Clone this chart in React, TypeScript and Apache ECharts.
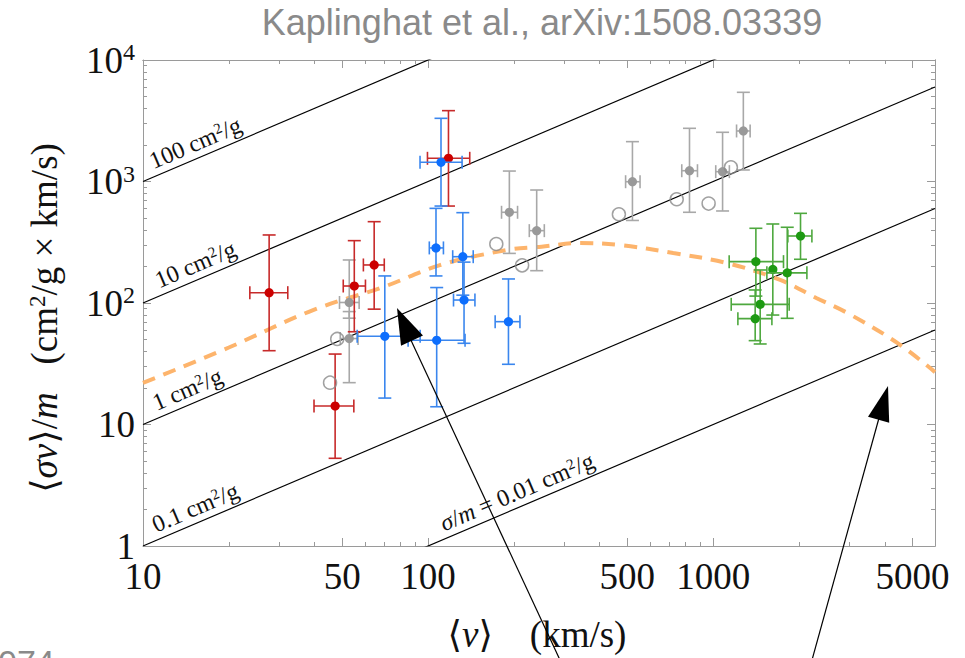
import React, { useEffect, useRef } from 'react';
import * as echarts from 'echarts';

// constant sigma/m reference lines (cm^2/g)
const sigmaOverM = [100, 10, 1, 0.1, 0.01];
const sigmaLabelV = [16, 16, 15, 16, 215];
const sigmaLabels = [
  '100 cm{sup|2}/g',
  '10 cm{sup|2}/g',
  '1 cm{sup|2}/g',
  '0.1 cm{sup|2}/g',
  '{i|σ}/{i|m} = 0.01 cm{sup|2}/g',
];

// axis ticks
const xTickLabels = [10, 50, 100, 500, 1000, 5000];
const xMinorTicks = [20, 30, 40, 60, 70, 80, 90, 200, 300, 400, 600, 700, 800, 900, 2000, 3000, 4000];
const yTickLabels = [1, 10, 100, 1000, 10000];
const yMinorTicks = [2, 3, 4, 5, 6, 7, 8, 9, 20, 30, 40, 50, 60, 70, 80, 90, 200, 300, 400, 500, 600, 700, 800, 900, 2000, 3000, 4000, 5000, 6000, 7000, 8000, 9000];

// model curve (dashed orange)
const curveV = [10, 20, 39.5, 70, 110, 189, 250, 341, 472, 724, 1120, 1718, 2300, 2951, 4424, 6000];
const curveY = [22, 43, 87.5, 136, 205, 273, 291, 312, 300, 258, 213, 155, 110, 83, 47, 27];

// dwarfs (red)
const redV = [27.7, 55.1, 64.7, 117.9, 47.2];
const redY = [121.6, 138, 205.6, 1552, 14.2];
const redVLo = [23.7, 50.4, 59.3, 99.5, 39.8];
const redVHi = [32.2, 60.3, 70.2, 140, 54.9];
const redYLo = [40.5, 58, 89, 628, 5.27];
const redYHi = [363, 326, 467, 3829, 38];

// low surface brightness galaxies (blue)
const blueV = [111, 106.6, 132.4, 133.7, 70.5, 107.2, 191.4];
const blueY = [1439, 284, 240.5, 105.8, 53.2, 49.3, 70.2];
const blueVLo = [93.7, 101, 122, 122.8, 56.4, 85.1, 171.9];
const blueVHi = [131.6, 113.2, 144, 146, 93.8, 134.8, 210];
const blueYLo = [628, 167, 116, 46.6, 16.5, 14.0, 31.3];
const blueYHi = [3311, 601, 554, 217, 167, 134, 157.7];

// groups (gray, filled)
const grayV = [192.8, 240.4, 521, 826, 1079, 1276, 52.9, 52.9];
const grayY = [558, 394, 996, 1227, 1205, 2606, 101, 51];
const grayVLo = [181, 226.5, 493, 776, 1021, 1208, 48.9, 49.2];
const grayVHi = [206, 255.7, 554, 881, 1140, 1348, 57.3, 56.8];
const grayYLo = [256, 184.5, 478, 558, 572, 1244, 75, 22.1];
const grayYHi = [1219, 851, 2128, 2740, 2541, 5420, 226, 85];

// open gray circles
const openV = [173.5, 213.7, 467, 745, 964, 1154, 45.3, 48];
const openY = [306, 204, 537, 714, 658, 1310, 22.1, 50.6];

// clusters (green)
const greenV = [1412, 1619, 1819, 2025, 1462, 1404];
const greenY = [219, 189, 177, 356, 97.5, 74.3];
const greenVLo = [1138, 1619, 1543, 1828, 1157, 1221];
const greenVHi = [1765, 1619, 2132, 2220, 1848, 1607];
const greenYLo = [114, 79.6, 74.8, 229, 46, 49];
const greenYHi = [412, 447, 420, 547, 187, 128];

const SERIF = '"Liberation Serif", "Times New Roman", "DejaVu Serif", serif';
const SANS = '"Liberation Sans", Arial, sans-serif';

const zip = (a: number[], b: number[]) => a.map((v, i) => [v, b[i]]);

function errorRows(v: number[], y: number[], vLo: number[], vHi: number[], yLo: number[], yHi: number[]) {
  return v.map((val, i) => [val, y[i], vLo[i], vHi[i], yLo[i], yHi[i]]);
}

function makeErrorSeries(name: string, rows: number[][], barColor: string, dotColor: string) {
  return {
    name,
    type: 'custom',
    xAxisIndex: 0,
    yAxisIndex: 0,
    z: 4,
    data: rows,
    renderItem: (params: any, api: any) => {
      const v = api.value(0);
      const y = api.value(1);
      const vLo = api.value(2);
      const vHi = api.value(3);
      const yLo = api.value(4);
      const yHi = api.value(5);
      const c = api.coord([v, y]);
      const cap = 6.5;
      const ls = { stroke: barColor, lineWidth: 1.6 };
      const children: any[] = [];
      if (isFinite(yLo) && isFinite(yHi) && yLo !== yHi) {
        const top = api.coord([v, yHi])[1];
        const bot = api.coord([v, yLo])[1];
        children.push({ type: 'line', shape: { x1: c[0], y1: top, x2: c[0], y2: bot }, style: ls });
        children.push({ type: 'line', shape: { x1: c[0] - cap, y1: top, x2: c[0] + cap, y2: top }, style: ls });
        children.push({ type: 'line', shape: { x1: c[0] - cap, y1: bot, x2: c[0] + cap, y2: bot }, style: ls });
      }
      if (isFinite(vLo) && isFinite(vHi) && vLo !== vHi) {
        const l = api.coord([vLo, y])[0];
        const r = api.coord([vHi, y])[0];
        children.push({ type: 'line', shape: { x1: l, y1: c[1], x2: r, y2: c[1] }, style: ls });
        children.push({ type: 'line', shape: { x1: l, y1: c[1] - cap, x2: l, y2: c[1] + cap }, style: ls });
        children.push({ type: 'line', shape: { x1: r, y1: c[1] - cap, x2: r, y2: c[1] + cap }, style: ls });
      }
      children.push({ type: 'circle', shape: { cx: c[0], cy: c[1], r: 4.6 }, style: { fill: dotColor } });
      return { type: 'group', children };
    },
  };
}

const tickLine = { color: '#9a9a9a', width: 1 };

function xAxisDef(gridIndex: number, position: string, ticks: number[], len: number, labels: boolean) {
  return {
    type: 'log',
    logBase: 10,
    gridIndex,
    position,
    min: 10,
    max: 6000,
    axisLine: { show: labels || position === 'top', lineStyle: { color: '#9a9a9a', width: 1 } },
    axisTick: { show: true, inside: true, length: len, customValues: ticks, lineStyle: tickLine },
    axisLabel: labels
      ? {
          show: true,
          customValues: xTickLabels,
          formatter: (v: number) => String(Math.round(v)),
          fontFamily: SERIF,
          fontSize: 37,
          color: '#111',
          margin: 12,
        }
      : { show: false },
    splitLine: { show: false },
    minorTick: { show: false },
  };
}

function yAxisDef(gridIndex: number, position: string, ticks: number[], len: number, labels: boolean) {
  return {
    type: 'log',
    logBase: 10,
    gridIndex,
    position,
    min: 1,
    max: 10000,
    axisLine: { show: labels || position === 'right', lineStyle: { color: '#9a9a9a', width: 1 } },
    axisTick: { show: true, inside: true, length: len, customValues: ticks, lineStyle: tickLine },
    axisLabel: labels
      ? {
          show: true,
          customValues: yTickLabels,
          formatter: (v: number) => {
            const e = Math.round(Math.log10(v));
            if (e === 0) return '1';
            if (e === 1) return '10';
            return '10{sup|' + e + '}';
          },
          fontFamily: SERIF,
          fontSize: 37,
          lineHeight: 40,
          color: '#111',
          margin: 8,
          rich: {
            sup: { fontFamily: SERIF, fontSize: 24, lineHeight: 24, verticalAlign: 'top', color: '#111' },
          },
        }
      : { show: false },
    splitLine: { show: false },
    minorTick: { show: false },
  };
}

export default function App() {
  const ref = useRef<HTMLDivElement>(null);

  useEffect(() => {
    if (!ref.current) return;
    const chart = echarts.init(ref.current, null, { renderer: 'svg' });

    const gridRect = { left: 143, right: 30, top: 60, bottom: 112 };

    const lineSeries = sigmaOverM.map((s) => ({
      type: 'line',
      xAxisIndex: 0,
      yAxisIndex: 0,
      z: 2,
      silent: true,
      clip: true,
      showSymbol: false,
      symbol: 'none',
      lineStyle: { color: '#000', width: 1.2 },
      data: [
        [10, 10 * s],
        [6000, 6000 * s],
      ],
    }));

    const labelSeries = {
      type: 'custom',
      xAxisIndex: 0,
      yAxisIndex: 0,
      z: 3,
      silent: true,
      data: sigmaOverM.map((s, i) => [sigmaLabelV[i], sigmaLabelV[i] * s, i]),
      renderItem: (params: any, api: any) => {
        const v = api.value(0);
        const y = api.value(1);
        const i = params.dataIndex;
        const p = api.coord([v, y]);
        const p2 = api.coord([v * 10, y * 10]);
        const ang = Math.atan2(-(p2[1] - p[1]), p2[0] - p[0]);
        const off = 3;
        return {
          type: 'text',
          x: p[0] - Math.sin(ang) * off,
          y: p[1] - Math.cos(ang) * off,
          rotation: ang,
          style: {
            text: sigmaLabels[i],
            fill: '#111',
            font: '24px ' + SERIF,
            textAlign: 'center',
            textVerticalAlign: 'bottom',
            rich: {
              sup: { fill: '#111', fontFamily: SERIF, fontSize: 15, lineHeight: 15, verticalAlign: 'top' },
              i: { fill: '#111', fontFamily: SERIF, fontSize: 24, fontStyle: 'italic' },
            },
          },
        };
      },
    };

    const option: any = {
      animation: false,
      backgroundColor: '#fff',
      grid: [
        { ...gridRect, show: false },
        { ...gridRect, show: false },
      ],
      xAxis: [
        xAxisDef(0, 'bottom', xTickLabels, 8, true),
        xAxisDef(0, 'top', xTickLabels, 8, false),
        xAxisDef(1, 'bottom', xMinorTicks, 4, false),
        xAxisDef(1, 'top', xMinorTicks, 4, false),
      ],
      yAxis: [
        yAxisDef(0, 'left', yTickLabels, 8, true),
        yAxisDef(0, 'right', yTickLabels, 8, false),
        yAxisDef(1, 'left', yMinorTicks, 4, false),
        yAxisDef(1, 'right', yMinorTicks, 4, false),
      ],
      series: [
        ...lineSeries,
        labelSeries,
        {
          type: 'line',
          xAxisIndex: 0,
          yAxisIndex: 0,
          z: 3,
          silent: true,
          smooth: 0.35,
          showSymbol: false,
          symbol: 'none',
          lineStyle: { color: '#fdb46c', width: 4, type: [13, 9] },
          data: zip(curveV, curveY),
        },
        makeErrorSeries('gray', errorRows(grayV, grayY, grayVLo, grayVHi, grayYLo, grayYHi), '#a8a8a8', '#999999'),
        makeErrorSeries('red', errorRows(redV, redY, redVLo, redVHi, redYLo, redYHi), '#c72a2a', '#cc0000'),
        makeErrorSeries('blue', errorRows(blueV, blueY, blueVLo, blueVHi, blueYLo, blueYHi), '#3a86ee', '#0d6efd'),
        makeErrorSeries('green', errorRows(greenV, greenY, greenVLo, greenVHi, greenYLo, greenYHi), '#4ea83e', '#1d9a12'),
        {
          type: 'scatter',
          xAxisIndex: 0,
          yAxisIndex: 0,
          z: 5,
          symbol: 'circle',
          symbolSize: 13,
          itemStyle: { color: 'rgba(255,255,255,0)', borderColor: '#8a8a8a', borderWidth: 1.5 },
          data: zip(openV, openY),
        },
      ],
      graphic: [
        {
          type: 'text',
          x: 542,
          y: 22,
          style: {
            text: 'Kaplinghat et al., arXiv:1508.03339',
            fill: '#8a8a8a',
            font: '36px ' + SANS,
            textAlign: 'center',
            textVerticalAlign: 'middle',
          },
        },
        {
          type: 'text',
          x: 44,
          y: 318,
          rotation: Math.PI / 2,
          style: {
            text: '⟨{i|σv}⟩/{i|m}   (cm{sup|2}/g × km/s)',
            fill: '#111',
            font: '37px ' + SERIF,
            textAlign: 'center',
            textVerticalAlign: 'middle',
            rich: {
              i: { fill: '#111', fontFamily: SERIF, fontSize: 37, fontStyle: 'italic' },
              sup: { fill: '#111', fontFamily: SERIF, fontSize: 23, lineHeight: 23, verticalAlign: 'top' },
            },
          },
        },
        {
          type: 'text',
          x: 537,
          y: 634,
          style: {
            text: '⟨{i|v}⟩    (km/s)',
            fill: '#111',
            font: '37px ' + SERIF,
            textAlign: 'center',
            textVerticalAlign: 'middle',
            rich: {
              i: { fill: '#111', fontFamily: SERIF, fontSize: 37, fontStyle: 'italic' },
            },
          },
        },
        {
          type: 'text',
          x: -2,
          y: 645,
          style: { text: '074', fill: '#8a8a8a', font: '34px ' + SANS, textAlign: 'left', textVerticalAlign: 'top' },
        },
        {
          type: 'line',
          z: 100,
          shape: { x1: 560, y1: 660, x2: 409, y2: 336 },
          style: { stroke: '#000', lineWidth: 1.2 },
        },
        {
          type: 'polygon',
          z: 100,
          shape: { points: [[397, 308], [423, 335.5], [401, 345.7]] },
          style: { fill: '#000' },
        },
        {
          type: 'line',
          z: 100,
          shape: { x1: 812, y1: 660, x2: 879, y2: 418 },
          style: { stroke: '#000', lineWidth: 1.2 },
        },
        {
          type: 'polygon',
          z: 100,
          shape: { points: [[888, 386], [868, 416.7], [889.2, 422.7]] },
          style: { fill: '#000' },
        },
      ],
    };

    chart.setOption(option);
    return () => chart.dispose();
  }, []);

  return (
    <div
      ref={ref}
      style={{ position: 'fixed', left: 0, top: 0, width: 965, height: 658, background: '#fff' }}
    />
  );
}
